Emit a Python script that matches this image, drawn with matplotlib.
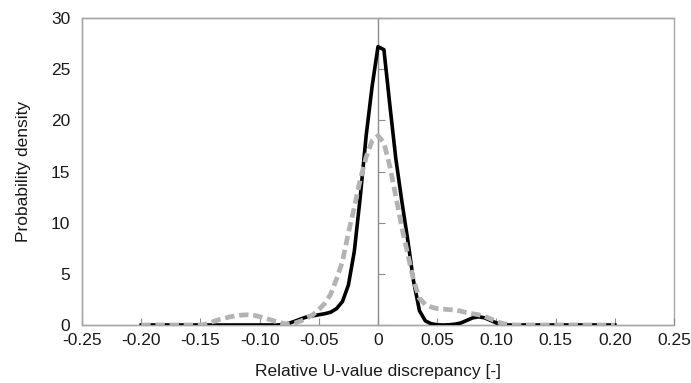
import matplotlib
matplotlib.use("Agg")
import matplotlib.pyplot as plt
from matplotlib.patches import Rectangle

plt.rcParams['font.family'] = ['Liberation Sans', 'DejaVu Sans']

# Solid black curve
x_black = [-0.20, -0.15, -0.10, -0.085, -0.08, -0.075, -0.07, -0.065, -0.06, -0.055,
           -0.05, -0.045, -0.04, -0.035, -0.03, -0.025, -0.02, -0.015, -0.01, -0.005,
           0.0, 0.005, 0.01, 0.015, 0.02, 0.025, 0.03, 0.035, 0.04, 0.045, 0.05,
           0.055, 0.06, 0.065, 0.07, 0.075, 0.08, 0.085, 0.09, 0.095, 0.10, 0.105,
           0.11, 0.15, 0.20]
y_black = [0, 0, 0, 0.0, 0.05, 0.18, 0.38, 0.6, 0.8, 0.9,
           1.0, 1.1, 1.25, 1.6, 2.3, 3.9, 7.2, 12.5, 18.5, 23.3,
           27.2, 26.9, 21.5, 16.3, 12.2, 8.4, 4.3, 1.4, 0.4, 0.12, 0.02,
           0.0, 0.02, 0.08, 0.2, 0.45, 0.7, 0.8, 0.7, 0.45, 0.2, 0.06,
           0.0, 0, 0]

# Dashed grey curve
x_grey = [-0.20, -0.15, -0.145, -0.14, -0.135, -0.13, -0.125, -0.12, -0.115, -0.11,
          -0.105, -0.10, -0.095, -0.09, -0.085, -0.08, -0.077, -0.075, -0.07, -0.065,
          -0.06, -0.055, -0.05, -0.045, -0.04, -0.035, -0.03, -0.025, -0.02, -0.015,
          -0.01, -0.005, 0.0, 0.005, 0.01, 0.015, 0.02, 0.025, 0.03, 0.035, 0.04,
          0.045, 0.05, 0.055, 0.06, 0.065, 0.07, 0.075, 0.08, 0.085, 0.09, 0.095,
          0.10, 0.105, 0.11, 0.115, 0.15, 0.20]
y_grey = [0, 0, 0.1, 0.3, 0.5, 0.65, 0.8, 0.9, 0.97, 1.0,
          0.95, 0.82, 0.65, 0.48, 0.3, 0.15, 0.08, 0.1, 0.2, 0.4,
          0.7, 1.0, 1.5, 2.1, 3.0, 4.5, 6.2, 9.0, 11.5, 14.2,
          16.4, 18.0, 18.5, 17.8, 15.5, 12.6, 9.6, 7.0, 4.4, 2.6, 2.0,
          1.75, 1.6, 1.55, 1.5, 1.47, 1.35, 1.2, 1.1, 1.0, 0.85, 0.6,
          0.35, 0.15, 0.05, 0.0, 0, 0]

xticks = [-0.25, -0.20, -0.15, -0.10, -0.05, 0.0, 0.05, 0.10, 0.15, 0.20, 0.25]
xticklabels = ['-0.25', '-0.20', '-0.15', '-0.10', '-0.05', '0', '0.05', '0.10', '0.15', '0.20', '0.25']
yticks = [0, 5, 10, 15, 20, 25, 30]

fig = plt.figure(figsize=(6.91, 3.83), dpi=100)
ax = fig.add_axes([82/691, 1 - 325/383, (674-82)/691, (325-18)/383])

ax.plot(x_black, y_black, color='black', lw=2.6, solid_joinstyle='round', zorder=3)
ax.plot(x_grey, y_grey, color='#b3b3b3', lw=3.4, linestyle=(0, (2.0, 1.0)), zorder=4)

ax.set_xlim(-0.25, 0.25)
ax.set_ylim(0, 30)
ax.set_xticks(xticks)
ax.set_xticklabels(xticklabels)
ax.set_yticks(yticks)

frame_col = '#a6a6a6'
for s in ['top', 'bottom', 'left']:
    ax.spines[s].set_color(frame_col)
    ax.spines[s].set_linewidth(1.0)
ax.spines['right'].set_position(('data', 0))
ax.spines['right'].set_color('#8c8c8c')
ax.spines['right'].set_linewidth(1.0)
ax.add_patch(Rectangle((0, 0), 1, 1, transform=ax.transAxes, fill=False,
                       edgecolor=frame_col, lw=1.0, zorder=0, clip_on=False))

fs = 12.5
ax.tick_params(axis='y', left=False, right=True, labelleft=True, labelright=False,
               direction='out', length=5, color='#8c8c8c', pad=3.5, labelsize=fs,
               labelcolor='#1a1a1a')
ax.tick_params(axis='x', direction='in', length=5, color='#8c8c8c', pad=6,
               labelsize=fs, labelcolor='#1a1a1a')

ax.set_xlabel('Relative U-value discrepancy [-]', fontsize=fs, color='#1a1a1a', labelpad=11)
ax.set_ylabel('Probability density', fontsize=fs, color='#1a1a1a', labelpad=14)

fig.savefig('out.png', dpi=100)
